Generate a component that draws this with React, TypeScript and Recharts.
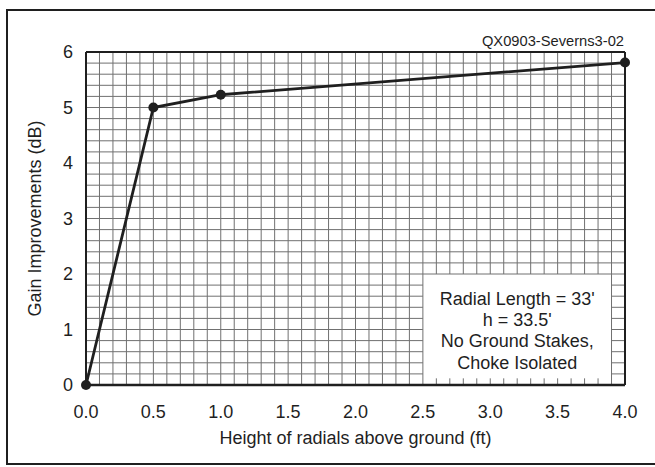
import { LineChart, Line, XAxis, YAxis, ReferenceArea, ReferenceLine } from 'recharts';

// radial height (ft) vs. gain improvement (dB)
const heights = [0, 0.5, 1.0, 4.0];
const gains = [0, 5.0, 5.23, 5.81];

const xTicks = [0, 0.5, 1.0, 1.5, 2.0, 2.5, 3.0, 3.5, 4.0];
const yTicks = [0, 1, 2, 3, 4, 5, 6];

const noteLines = ["Radial Length = 33'", "h = 33.5'", 'No Ground Stakes,', 'Choke Isolated'];
const figureId = 'QX0903-Severns3-02';

// graph paper: 0.1 ft columns, 0.2 dB rows
const xMinor = Array.from({ length: 41 }, (_, i) => i / 10);
const yMinor = Array.from({ length: 31 }, (_, i) => i / 5);

// white note box sitting on the paper (data units)
const boxX = [2.5, 3.9];
const boxY = [0.12, 2.0];

const FONT = '"Liberation Sans", Arial, sans-serif';
const INK = '#1f1f1f';
const GRID = '#707070';

const data = heights.map((h, i) => ({ height: h, gain: gains[i] }));
const EPS = 1e-6;

// split grid lines so they stop at the note box
function gridSegments() {
  const segs: { key: string; segment: { x: number; y: number }[] }[] = [];
  xMinor.forEach((v) => {
    if (v > boxX[0] + EPS && v < boxX[1] - EPS) {
      segs.push({ key: `vx${v}a`, segment: [{ x: v, y: 0 }, { x: v, y: boxY[0] }] });
      segs.push({ key: `vx${v}b`, segment: [{ x: v, y: boxY[1] }, { x: v, y: 6 }] });
    } else {
      segs.push({ key: `vx${v}`, segment: [{ x: v, y: 0 }, { x: v, y: 6 }] });
    }
  });
  yMinor.forEach((v) => {
    if (v > boxY[0] + EPS && v < boxY[1] - EPS) {
      segs.push({ key: `hy${v}a`, segment: [{ x: 0, y: v }, { x: boxX[0], y: v }] });
      segs.push({ key: `hy${v}b`, segment: [{ x: boxX[1], y: v }, { x: 4, y: v }] });
    } else {
      segs.push({ key: `hy${v}`, segment: [{ x: 0, y: v }, { x: 4, y: v }] });
    }
  });
  return segs;
}

function NoteLabel(props: any) {
  const { x, y, width } = props.viewBox;
  const cx = x + width / 2;
  return (
    <text x={cx} y={y} textAnchor="middle" fontSize={18} fill={INK} fontFamily={FONT}>
      {noteLines.map((line, i) => (
        <tspan key={line} x={cx} y={y + 31 + i * 21.2}>
          {line}
        </tspan>
      ))}
    </text>
  );
}

function YTitle(props: any) {
  const { x, y, height } = props.viewBox;
  const cx = x - 21;
  const cy = y + height / 2;
  return (
    <text
      x={cx}
      y={cy}
      transform={`rotate(-90 ${cx} ${cy})`}
      textAnchor="middle"
      dominantBaseline="central"
      fontSize={18}
      fill={INK}
      fontFamily={FONT}
    >
      Gain Improvements (dB)
    </text>
  );
}

export default function App() {
  return (
    <div
      style={{
        position: 'fixed',
        left: 0,
        top: 0,
        width: 655,
        height: 467,
        overflow: 'hidden',
        background: '#fff',
        fontFamily: FONT,
      }}
    >
      <div
        style={{
          position: 'absolute',
          left: 6,
          top: 9,
          width: 670,
          height: 456,
          border: `2px solid ${INK}`,
          boxSizing: 'border-box',
        }}
      />
      <div
        style={{
          position: 'absolute',
          right: 31,
          top: 33,
          fontSize: 14.7,
          color: INK,
        }}
      >
        {figureId}
      </div>
      <div style={{ position: 'absolute', left: 0, top: 0 }}>
        <LineChart width={655} height={467} data={data} margin={{ top: 52, right: 30, bottom: 52, left: 56 }}>
          <XAxis
            dataKey="height"
            type="number"
            domain={[0, 4]}
            ticks={xTicks}
            tickFormatter={(v: number) => v.toFixed(1)}
            axisLine={false}
            tickLine={false}
            tickSize={0}
            tickMargin={20}
            height={30}
            tick={{ fontSize: 18, fill: INK, fontFamily: FONT }}
            label={{
              value: 'Height of radials above ground (ft)',
              position: 'bottom',
              offset: 16,
              style: { fontSize: 18, fill: INK, fontFamily: FONT },
            }}
          />
          <YAxis
            type="number"
            domain={[0, 6]}
            ticks={yTicks}
            axisLine={false}
            tickLine={false}
            tickSize={0}
            tickMargin={13}
            width={30}
            tick={{ fontSize: 18, fill: INK, fontFamily: FONT }}
            label={YTitle}
          />
          <ReferenceArea
            x1={boxX[0]}
            x2={boxX[1]}
            y1={boxY[0]}
            y2={boxY[1]}
            fill="#fff"
            fillOpacity={0}
            stroke="none"
            label={NoteLabel}
          />
          {gridSegments().map((s) => (
            <ReferenceLine key={s.key} segment={s.segment} stroke={GRID} strokeWidth={1} />
          ))}
          <ReferenceLine x={0} stroke={INK} strokeWidth={2} />
          <ReferenceLine x={4} stroke={INK} strokeWidth={2} />
          <ReferenceLine y={0} stroke={INK} strokeWidth={2.4} />
          <ReferenceLine y={6} stroke={INK} strokeWidth={2} />
          <Line
            type="linear"
            dataKey="gain"
            stroke={INK}
            strokeWidth={2.8}
            dot={{ r: 5, fill: INK, stroke: INK, strokeWidth: 0 }}
            isAnimationActive={false}
          />
        </LineChart>
      </div>
    </div>
  );
}
